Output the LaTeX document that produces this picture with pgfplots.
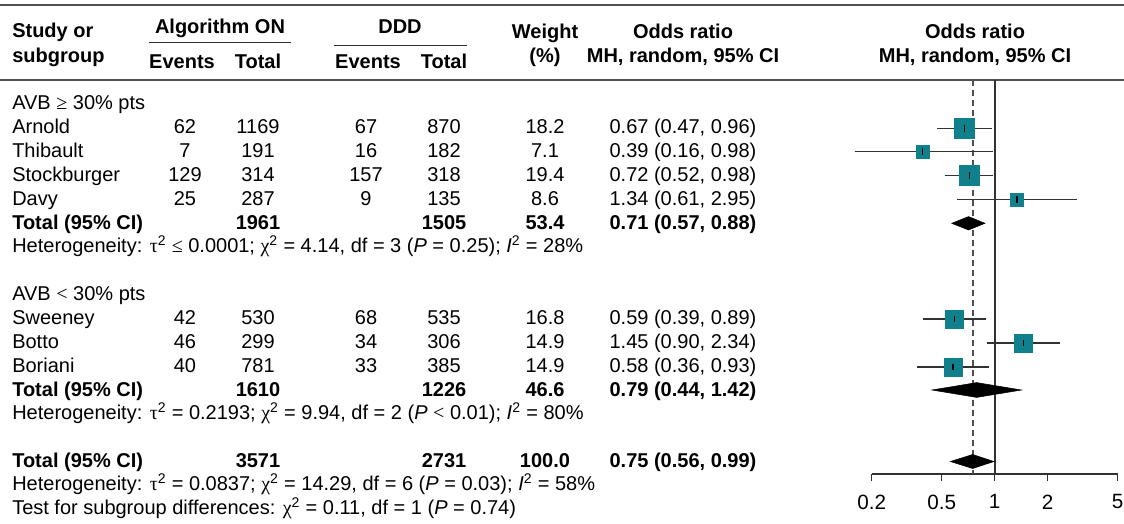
\documentclass[border=0pt]{standalone}
\usepackage{pgfplots}
\pgfplotsset{compat=1.18}
\usepackage{fontspec}
\setmainfont{Liberation Sans}
\newfontfamily\grk{Liberation Serif}
\definecolor{sq}{RGB}{15,128,140}
\definecolor{ln}{RGB}{50,50,50}
\definecolor{rule}{RGB}{80,80,80}
\newcommand{\tausq}{{\grk τ}\textsuperscript{2}}
\newcommand{\chisq}{{\grk χ}\textsuperscript{2}}
\newcommand{\Isq}{\textit{I}\textsuperscript{2}}
\begin{document}
\fontsize{15}{18}\selectfont
\begin{tikzpicture}[x=0.75pt,y=-0.75pt]
\useasboundingbox (0,0) rectangle (1124,524);
% rules
\draw[rule,line width=1.4pt] (0,5) -- (1124,5);
\draw[rule,line width=1.4pt] (0,80) -- (1124,80);
\draw[ln,line width=1pt] (149,42.5) -- (291,42.5);
\draw[ln,line width=1pt] (334,45.5) -- (467,45.5);
% header
\tikzset{h/.style={anchor=base,inner sep=0pt,font=\bfseries},
         c/.style={anchor=base,inner sep=0pt},
         l/.style={anchor=base west,inner sep=0pt},
         lb/.style={anchor=base west,inner sep=0pt,font=\bfseries}}
\node[lb] at (12,38) {Study or};
\node[lb] at (12,63) {subgroup};
\node[h] at (220,34) {Algorithm ON};
\node[h] at (400,34) {DDD};
\node[h] at (182,69) {Events};
\node[h] at (258,69) {Total};
\node[h] at (368,69) {Events};
\node[h] at (444,69) {Total};
\node[h] at (545,39) {Weight};
\node[h] at (545,63) {(\%)};
\node[h] at (683,39) {Odds ratio};
\node[h] at (683,63) {MH, random, 95\% CI};
\node[h] at (975,39) {Odds ratio};
\node[h] at (975,63) {MH, random, 95\% CI};
% subgroup 1
\node[l] at (12,110) {AVB {\grk ≥} 30\% pts};
\node[l] at (12,134) {Arnold};
\node[c] at (185,134) {62}; \node[c] at (258,134) {1169}; \node[c] at (366,134) {67}; \node[c] at (444,134) {870}; \node[c] at (545,134) {18.2}; \node[c] at (683,134) {0.67 (0.47, 0.96)};
\node[l] at (12,157.5) {Thibault};
\node[c] at (185,157.5) {7}; \node[c] at (258,157.5) {191}; \node[c] at (366,157.5) {16}; \node[c] at (444,157.5) {182}; \node[c] at (545,157.5) {7.1}; \node[c] at (683,157.5) {0.39 (0.16, 0.98)};
\node[l] at (12,181.5) {Stockburger};
\node[c] at (185,181.5) {129}; \node[c] at (258,181.5) {314}; \node[c] at (366,181.5) {157}; \node[c] at (444,181.5) {318}; \node[c] at (545,181.5) {19.4}; \node[c] at (683,181.5) {0.72 (0.52, 0.98)};
\node[l] at (12,205.5) {Davy};
\node[c] at (185,205.5) {25}; \node[c] at (258,205.5) {287}; \node[c] at (366,205.5) {9}; \node[c] at (444,205.5) {135}; \node[c] at (545,205.5) {8.6}; \node[c] at (683,205.5) {1.34 (0.61, 2.95)};
\node[lb] at (12,229) {Total (95\% CI)};
\node[h] at (258,229) {1961}; \node[h] at (444,229) {1505}; \node[h] at (545,229) {53.4}; \node[h] at (683,229) {0.71 (0.57, 0.88)};
\node[l] at (12,252.5) {Heterogeneity: \tausq\ {\grk ≤} 0.0001; \chisq\ = 4.14, df = 3 (\textit{P} = 0.25); \Isq\ = 28\%};
% subgroup 2
\node[l] at (12,300) {AVB {\grk <} 30\% pts};
\node[l] at (12,324.5) {Sweeney};
\node[c] at (185,324.5) {42}; \node[c] at (258,324.5) {530}; \node[c] at (366,324.5) {68}; \node[c] at (444,324.5) {535}; \node[c] at (545,324.5) {16.8}; \node[c] at (683,324.5) {0.59 (0.39, 0.89)};
\node[l] at (12,348.5) {Botto};
\node[c] at (185,348.5) {46}; \node[c] at (258,348.5) {299}; \node[c] at (366,348.5) {34}; \node[c] at (444,348.5) {306}; \node[c] at (545,348.5) {14.9}; \node[c] at (683,348.5) {1.45 (0.90, 2.34)};
\node[l] at (12,372.5) {Boriani};
\node[c] at (185,372.5) {40}; \node[c] at (258,372.5) {781}; \node[c] at (366,372.5) {33}; \node[c] at (444,372.5) {385}; \node[c] at (545,372.5) {14.9}; \node[c] at (683,372.5) {0.58 (0.36, 0.93)};
\node[lb] at (12,396) {Total (95\% CI)};
\node[h] at (258,396) {1610}; \node[h] at (444,396) {1226}; \node[h] at (545,396) {46.6}; \node[h] at (683,396) {0.79 (0.44, 1.42)};
\node[l] at (12,419.5) {Heterogeneity: \tausq\ = 0.2193; \chisq\ = 9.94, df = 2 (\textit{P} {\grk <} 0.01); \Isq\ = 80\%};
% overall
\node[lb] at (12,467) {Total (95\% CI)};
\node[h] at (258,467) {3571}; \node[h] at (444,467) {2731}; \node[h] at (545,467) {100.0}; \node[h] at (683,467) {0.75 (0.56, 0.99)};
\node[l] at (12,490.5) {Heterogeneity: \tausq\ = 0.0837; \chisq\ = 14.29, df = 6 (\textit{P} = 0.03); \Isq\ = 58\%};
\node[l] at (12,514.5) {Test for subgroup differences: \chisq\ = 0.11, df = 1 (\textit{P} = 0.74)};
% forest axis
\begin{axis}[
  at={(653.775pt,-355.5pt)}, anchor=south west,
  scale only axis, width=184.5pt, height=295.5pt,
  xmode=log, xmin=0.2, xmax=5, ymin=80, ymax=474, y dir=reverse,
  clip=false,
  axis x line*=bottom, axis y line=none,
  xtick={0.2,0.5,1,2,5}, xticklabels={0.2,0.5,1,2,5},
  minor xtick={}, xminorticks=false,
  tick align=outside, major tick length=5.25pt,
  every tick/.style={ln,line width=1pt},
  axis line style={ln,line width=1.2pt},
  xticklabel style={font=\fontsize{15.5}{18}\selectfont, yshift=-5pt},
]
\addplot[ln,line width=1.2pt] coordinates {(1,80) (1,474)};
\addplot[rule,line width=1.3pt,dash pattern=on 4.5pt off 3pt] coordinates {(0.75,80) (0.75,474)};
% whiskers
\addplot[ln,line width=1pt] coordinates {(0.47,128.3) (0.96,128.3)};
\addplot[ln,line width=1pt] coordinates {(0.16,151.7) (0.98,151.7)};
\addplot[ln,line width=1pt] coordinates {(0.52,175.7) (0.98,175.7)};
\addplot[ln,line width=1pt] coordinates {(0.61,199.7) (2.95,199.7)};
\addplot[ln,line width=1pt] coordinates {(0.39,319) (0.89,319)};
\addplot[ln,line width=1pt] coordinates {(0.90,343) (2.34,343)};
\addplot[ln,line width=1pt] coordinates {(0.36,367) (0.93,367)};
% squares
\addplot[only marks,mark=square*,mark size=7.3pt,color=sq] coordinates {(0.67,128.3)};
\addplot[only marks,mark=square*,mark size=4.9pt,color=sq] coordinates {(0.39,151.7)};
\addplot[only marks,mark=square*,mark size=7.5pt,color=sq] coordinates {(0.72,175.7)};
\addplot[only marks,mark=square*,mark size=4.9pt,color=sq] coordinates {(1.34,199.7)};
\addplot[only marks,mark=square*,mark size=6.8pt,color=sq] coordinates {(0.59,319)};
\addplot[only marks,mark=square*,mark size=6.8pt,color=sq] coordinates {(1.45,343)};
\addplot[only marks,mark=square*,mark size=6.8pt,color=sq] coordinates {(0.58,367)};
% point ticks
\addplot[only marks,mark=|,mark size=2.6pt,black,mark options={line width=0.9pt}] coordinates {(0.67,128.3) (0.39,151.7) (0.72,175.7) (1.34,199.7) (0.59,319) (1.45,343) (0.58,367)};
% diamonds
\addplot[fill=black,draw=black] coordinates {(0.57,223.3) (0.71,216.6) (0.88,223.3) (0.71,230)} -- cycle;
\addplot[fill=black,draw=black] coordinates {(0.44,390) (0.79,382.6) (1.42,390) (0.79,397.4)} -- cycle;
\addplot[fill=black,draw=black] coordinates {(0.56,461.5) (0.75,454.5) (0.99,461.5) (0.75,468.5)} -- cycle;
\end{axis}
\end{tikzpicture}
\end{document}
